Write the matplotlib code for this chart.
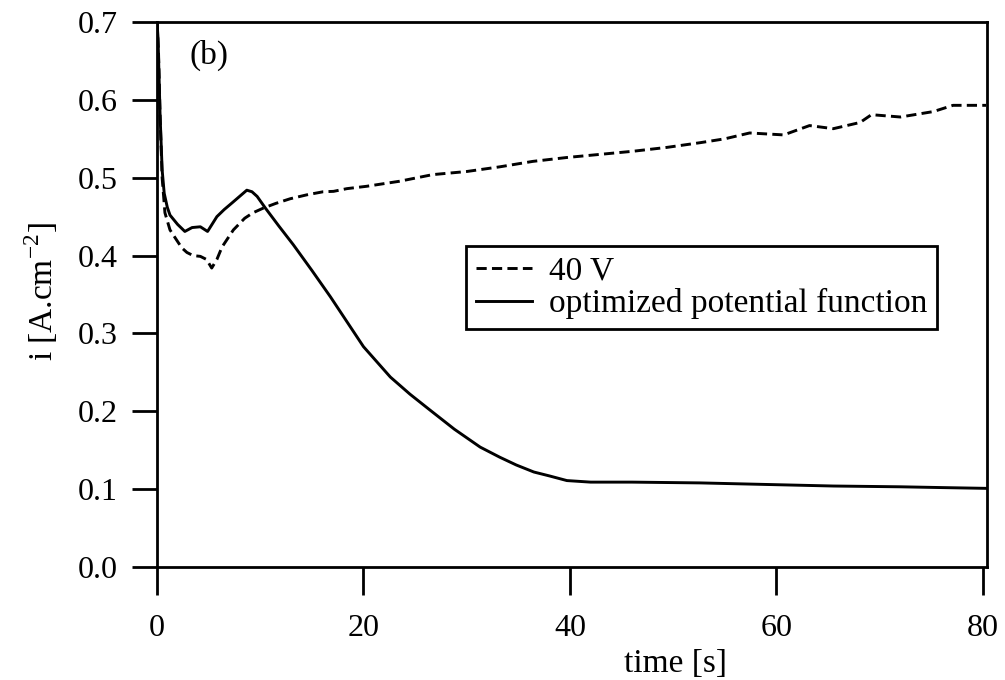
import matplotlib
matplotlib.use("Agg")
import matplotlib.pyplot as plt

plt.rcParams['font.family'] = ['Liberation Serif', 'DejaVu Serif']
plt.rcParams['mathtext.fontset'] = 'custom'
plt.rcParams['mathtext.rm'] = 'Liberation Serif'

# 40 V curve (dashed)
t_40v = [0, 0.15, 0.3, 0.5, 0.77, 1.26, 1.9, 2.4, 2.9, 3.5, 4.2, 4.8, 5.3, 5.8,
         6.3, 7.4, 8.5, 9.3, 10.3, 11.5, 12.9, 14.5, 16.1, 17.1, 18.4, 20.3,
         23.5, 26.7, 30.0, 33.2, 36.4, 39.7, 42.9, 46.1, 49.4, 52.6, 55.0,
         57.4, 60.7, 63.2, 65.5, 68.1, 69.2, 72.0, 75.2, 77.1, 80.3]
i_40v = [0.70, 0.66, 0.58, 0.50, 0.455, 0.433, 0.420, 0.410, 0.404, 0.400,
         0.399, 0.395, 0.384, 0.395, 0.411, 0.433, 0.448, 0.455, 0.461, 0.467,
         0.473, 0.478, 0.482, 0.4825, 0.486, 0.489, 0.4955, 0.504, 0.508,
         0.514, 0.521, 0.526, 0.530, 0.534, 0.539, 0.545, 0.550, 0.5575,
         0.555, 0.567, 0.563, 0.571, 0.581, 0.578, 0.585, 0.593, 0.593]

# optimized potential function (solid)
t_opt = [0, 0.1, 0.3, 0.5, 0.7, 1.0, 1.26, 2.0, 2.7, 3.4, 4.2, 4.9, 5.8, 6.5,
         7.3, 8.0, 8.7, 9.2, 9.7, 10.5, 11.8, 13.2, 15.0, 16.8, 18.4, 20.0,
         22.6, 24.5, 26.4, 28.8, 31.3, 33.2, 34.8, 36.5, 38.0, 39.7, 42.0,
         46.0, 52.6, 59.0, 65.5, 72.0, 76.0, 80.3]
i_opt = [0.70, 0.68, 0.58, 0.51, 0.48, 0.462, 0.452, 0.440, 0.431, 0.436,
         0.437, 0.431, 0.450, 0.459, 0.468, 0.476, 0.484, 0.482, 0.476, 0.461,
         0.438, 0.414, 0.381, 0.347, 0.315, 0.283, 0.244, 0.222, 0.202, 0.177,
         0.154, 0.141, 0.131, 0.122, 0.117, 0.111, 0.109, 0.109, 0.108, 0.106,
         0.104, 0.103, 0.102, 0.101]

x_ticks = [0, 20, 40, 60, 80]
y_ticks = [0.0, 0.1, 0.2, 0.3, 0.4, 0.5, 0.6, 0.7]

fig = plt.figure(figsize=(10.05, 6.8), dpi=100)
ax = fig.add_axes([0.1562, 0.1662, 0.826, 0.8014])

ax.plot(t_40v, i_40v, color='black', lw=2.1, linestyle=(0, (3.5, 1.8)), label='40 V')
ax.plot(t_opt, i_opt, color='black', lw=2.1, label='optimized potential function')

ax.set_xlim(0, 80.4)
ax.set_ylim(0, 0.7)
ax.set_xticks(x_ticks)
ax.set_yticks(y_ticks)
ax.set_yticklabels([f"{v:.1f}" for v in y_ticks])

for s in ax.spines.values():
    s.set_linewidth(2.0)
ax.tick_params(axis='both', direction='out', width=2.0, labelsize=23)
ax.tick_params(axis='y', length=18, pad=10)
ax.tick_params(axis='x', length=20, pad=14)

ax.set_xlabel('time [s]', fontsize=24, va='top')
ax.xaxis.set_label_coords(0.625, -0.149)
ax.set_ylabel(r'i [A.cm$^{\mathrm{-2}}$]', fontsize=24)
ax.yaxis.set_label_coords(-0.117, 0.506)

ax.text(0.063, 0.939, '(b)', transform=ax.transAxes, ha='center', va='center',
        fontsize=24)

leg = ax.legend(loc='upper right', bbox_to_anchor=(0.94, 0.589), fontsize=24,
                fancybox=False, edgecolor='black', framealpha=1,
                handlelength=1.7, handletextpad=0.5, labelspacing=0.05,
                borderpad=0.3, borderaxespad=0)
leg.get_frame().set_linewidth(2.0)

fig.savefig('out.png', dpi=100)
